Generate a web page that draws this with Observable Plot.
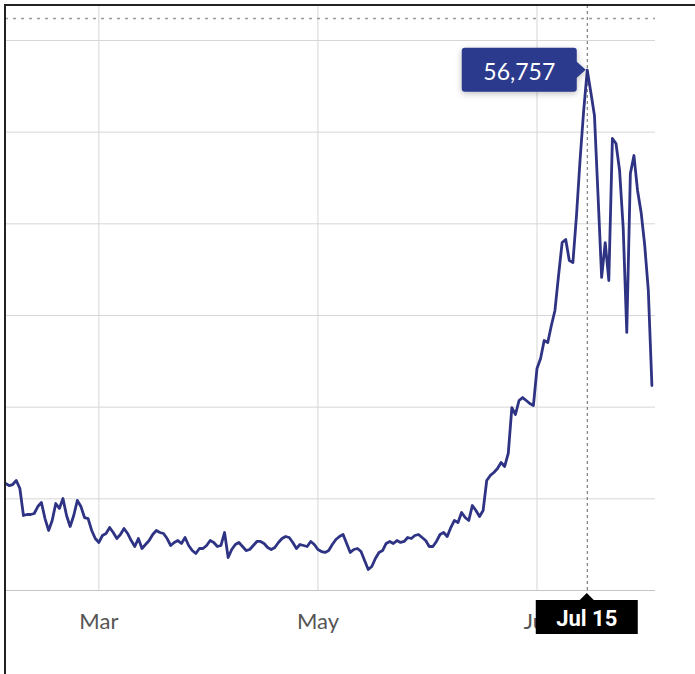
<!DOCTYPE html>
<html><head><meta charset="utf-8">
<script src="https://cdn.jsdelivr.net/npm/d3@7"></script>
<script src="https://cdn.jsdelivr.net/npm/@observablehq/plot@0.6"></script>
<style>
body{margin:0;background:#fff;}
#wrap{position:relative;width:695px;height:674px;overflow:hidden;}
#frame{position:absolute;left:4px;top:4px;width:720px;height:700px;border-left:2px solid #222;border-top:2px solid #222;pointer-events:none;}
</style></head><body><div id="wrap"><div id="chart"></div><div id="frame"></div></div>
<script>
const startDate = "2021-02-03";
const endDate = "2021-08-03";
const dailyValues = [
11670,11450,11560,12000,11130,8180,8290,8290,8400,9160,
9600,7850,6550,7640,9490,8950,10040,8180,6980,8180,
9820,9160,7960,7850,6550,5670,5240,6000,6220,6870,
6330,5670,6110,6760,6220,5450,4800,5670,4580,5020,
5450,6110,6550,6330,6220,5670,4910,5240,5450,5130,
5780,4910,4360,4040,4580,4580,4910,5450,5240,4800,
4910,6330,3600,4470,5020,5240,4800,4360,4470,4910,
5350,5350,5130,4690,4470,4690,5240,5670,5890,5780,
5240,4580,5020,4910,4800,5350,5020,4470,4250,4150,
4360,5020,5560,5890,6110,5130,4150,4470,4580,4250,
3270,2290,2620,3490,4150,4360,5130,5350,5130,5450,
5240,5350,5780,5670,6000,6110,5780,5450,4800,4800,
5350,6110,6330,5890,6870,7640,7420,8510,7960,7640,
9270,8730,8070,8730,12000,12550,12870,13310,13960,13530,
14950,19960,19200,20730,21050,20730,20400,20180,24220,25310,
27270,27050,28910,30550,34360,37960,38290,35990,35780,40910,
47020,52360,56757,54330,51820,43090,34150,37960,33820,49310,
48760,45820,39600,28150,45490,47450,43640,41240,37640,32730,
22360
];
const gridValues = [0, 10000, 20000, 30000, 40000, 50000, 60000];
const topLineValue = 62400;
const tickDates = ["2021-03-01", "2021-05-01", "2021-07-01"];
const tickLabels = ["Mar", "May", "Jul"];
const highlightDate = "2021-07-15";
const highlightValue = 56757;
const highlightLabel = "Jul 15";

const start = new Date(startDate + "T00:00:00Z");
const data = dailyValues.map((v, i) => ({date: d3.utcDay.offset(start, i), value: v}));
const ticks = tickDates.map(d => new Date(d + "T00:00:00Z"));
const hDate = new Date(highlightDate + "T00:00:00Z");

const tipMark = Plot.dot([{date: hDate, value: highlightValue}], {
  x: "date", y: "value", r: 0,
  render(index, scales, values, dimensions) {
    const px = scales.x(hDate), py = scales.y(highlightValue);
    const by = dimensions.height - dimensions.marginBottom;
    const g = d3.create("svg:g");
    const L = px - 125, R = px - 10, T = py - 22, B = py + 22, r = 3;
    g.append("path")
      .attr("d", `M${L + r},${T}H${R - r}Q${R},${T} ${R},${T + r}V${py - 8}L${px - 1},${py}L${R},${py + 8}V${B - r}Q${R},${B} ${R - r},${B}H${L + r}Q${L},${B} ${L},${B - r}V${T + r}Q${L},${T} ${L + r},${T}Z`)
      .attr("fill", "#2c3a8e")
      .attr("style", "filter: drop-shadow(0 2px 3px rgba(0,0,0,0.25))");
    g.append("text")
      .attr("x", (L + R) / 2).attr("y", py + 1)
      .attr("text-anchor", "middle").attr("dominant-baseline", "central")
      .attr("fill", "#fff").attr("font-size", 23).attr("font-family", "Lato")
      .text(d3.format(",")(highlightValue));
    const bl = px - 51, br = px + 51, bt = by + 10, bb = by + 44;
    g.append("path")
      .attr("d", `M${bl},${bt}H${px - 7}L${px},${bt - 7}L${px + 7},${bt}H${br}V${bb}H${bl}Z`)
      .attr("fill", "#000");
    g.append("text")
      .attr("x", px).attr("y", (bt + bb) / 2 + 1)
      .attr("text-anchor", "middle").attr("dominant-baseline", "central")
      .attr("fill", "#fff").attr("font-size", 22).attr("font-weight", "bold").attr("font-family", "Roboto")
      .text(highlightLabel);
    return g.node();
  }
});

const chart = Plot.plot({
  width: 695,
  height: 674,
  marginLeft: 5,
  marginRight: 40,
  marginTop: 18,
  marginBottom: 84,
  style: {fontFamily: "Lato", background: "#fff"},
  x: {type: "utc", domain: [start, new Date(endDate + "T00:00:00Z")], axis: null},
  y: {domain: [0, topLineValue], axis: null},
  marks: [
    Plot.gridY(gridValues, {stroke: "#d6d6d6", strokeOpacity: 1}),
    Plot.ruleY([0], {stroke: "#c4c4c4", strokeWidth: 1.2}),
    Plot.gridX(ticks, {stroke: "#d6d6d6", strokeOpacity: 1, insetTop: -13}),
    Plot.ruleY([topLineValue], {stroke: "#9a9a9a", strokeDasharray: "3,5", strokeWidth: 1.3}),
    Plot.ruleX([hDate], {stroke: "#666", strokeDasharray: "3,3", insetTop: -13}),
    Plot.axisX(ticks, {tickSize: 0, tickPadding: 23, fontSize: 22, fill: "#555",
      tickFormat: (d) => tickLabels[ticks.findIndex(t => +t === +d)]}),
    Plot.line(data, {x: "date", y: "value", stroke: "#2e3383", strokeWidth: 2.8, strokeLinejoin: "round", strokeLinecap: "round"}),
    tipMark
  ]
});
document.getElementById("chart").appendChild(chart);
</script>
</body></html>
